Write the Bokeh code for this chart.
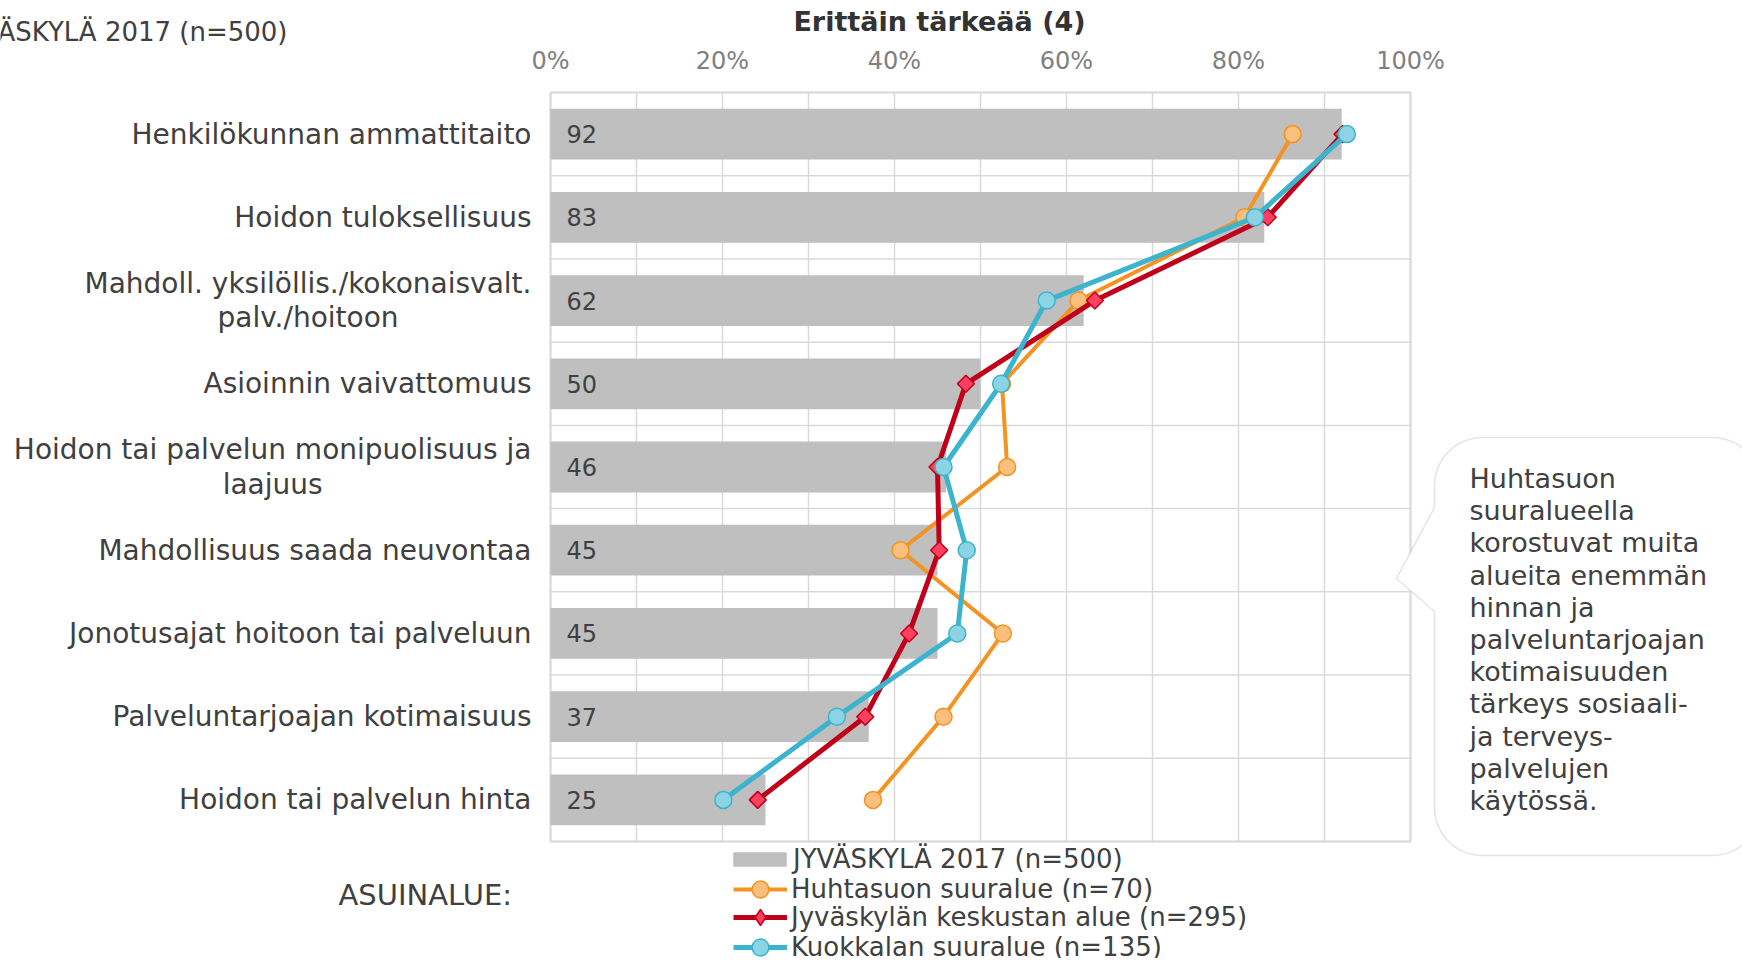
import math
from bokeh.plotting import figure
from bokeh.models import (Range1d, Label, PolyAnnotation, Legend, LegendItem, ColumnDataSource)
from bokeh.models.glyphs import Text
from bokeh.core.properties import value
from bokeh.embed import file_html
from bokeh.resources import INLINE

# ---------------- data ----------------
categories = [
    "Henkilökunnan ammattitaito",
    "Hoidon tuloksellisuus",
    "Mahdoll. yksilöllis./kokonaisvalt.\npalv./hoitoon",
    "Asioinnin vaivattomuus",
    "Hoidon tai palvelun monipuolisuus ja\nlaajuus",
    "Mahdollisuus saada neuvontaa",
    "Jonotusajat hoitoon tai palveluun",
    "Palveluntarjoajan kotimaisuus",
    "Hoidon tai palvelun hinta",
]
total_2017 = [92, 83, 62, 50, 46, 45, 45, 37, 25]
huhtasuo = [86.3, 80.7, 61.4, 52.5, 53.1, 40.7, 52.6, 45.7, 37.5]
keskusta = [92.1, 83.4, 63.3, 48.3, 45.0, 45.2, 41.7, 36.6, 24.1]
kuokkala = [92.6, 81.9, 57.7, 52.4, 45.7, 48.4, 47.3, 33.3, 20.1]

series_names = [
    "JYVÄSKYLÄ 2017 (n=500)",
    "Huhtasuon suuralue (n=70)",
    "Jyväskylän keskustan alue (n=295)",
    "Kuokkalan suuralue (n=135)",
]
x_ticks = [0, 20, 40, 60, 80, 100]
x_grid = [0, 10, 20, 30, 40, 50, 60, 70, 80, 90, 100]
title_text = "Erittäin tärkeää (4)"
top_left_text = "JYVÄSKYLÄ 2017 (n=500)"
group_label = "ASUINALUE:"
callout_lines = ["Huhtasuon", "suuralueella", "korostuvat muita", "alueita enemmän",
                 "hinnan ja", "palveluntarjoajan", "kotimaisuuden", "tärkeys sosiaali-",
                 "ja terveys-", "palvelujen", "käytössä."]

# ---------------- layout (canvas px) ----------------
W, H = 1742, 958
FL, FR, FT, FB = 550, 1410, 92, 841          # plot area box
FONT = "DejaVu Sans"
TXT = "#404040"
GRID = "#D9D9D9"
n = len(categories)
XMIN, XMAX = x_grid[0], x_grid[-1]
ppx = (FR - FL) / (XMAX - XMIN)
ppy = (FB - FT) / n


def X(sx):
    return XMIN + (sx - FL) / ppx


def Y(sy):
    return (FB - sy) / ppy


p = figure(width=W, height=H, output_backend="svg", toolbar_location=None, title=None,
           x_range=Range1d(X(0), X(W)), y_range=Range1d(Y(H), Y(0)),
           x_axis_location=None, y_axis_location=None, min_border=0)
p.grid.visible = False
p.outline_line_color = None
p.background_fill_color = "white"
p.border_fill_color = "white"

rows = [n - 0.5 - i for i in range(n)]
src = ColumnDataSource(dict(row=rows, cat=categories, total=total_2017,
                            lab=[str(v) for v in total_2017],
                            huh=huhtasuo, kes=keskusta, kuo=kuokkala))

# grid lines and plot-area border
p.segment(x0=x_grid, x1=x_grid, y0=[0] * len(x_grid), y1=[n] * len(x_grid),
          line_color=GRID, line_width=1.5)
bounds = list(range(n + 1))
p.segment(x0=[XMIN] * len(bounds), x1=[XMAX] * len(bounds), y0=bounds, y1=bounds,
          line_color=GRID, line_width=1.5)
p.quad(left=XMIN, right=XMAX, bottom=0, top=n, fill_color=None, line_color=GRID, line_width=2)

# bars
bars = p.hbar(y="row", right="total", left=0, height=0.61, source=src,
              fill_color="#BFBFBF", line_color=None)
p.text(x=0, y="row", text="lab", source=src, x_offset=16, text_align="left",
       text_baseline="middle", text_font=value(FONT), text_font_size="24px", text_color=TXT)

# series lines
ORANGE, ORANGE_F = "#F39422", "#FABE7D"
RED, RED_F = "#C0001A", "#FF4060"
CYAN, CYAN_F = "#3DB4CD", "#8CD3E3"
l1 = p.line(x="huh", y="row", source=src, line_color=ORANGE, line_width=4)
s1 = p.scatter(x="huh", y="row", source=src, marker="circle", size=17,
               fill_color=ORANGE_F, line_color=ORANGE, line_width=1.5)
l2 = p.line(x="kes", y="row", source=src, line_color=RED, line_width=5)
s2 = p.scatter(x="kes", y="row", source=src, marker="square", angle=math.pi / 4, size=12,
               fill_color=RED_F, line_color=RED, line_width=1.5)
l3 = p.line(x="kuo", y="row", source=src, line_color=CYAN, line_width=5)
s3 = p.scatter(x="kuo", y="row", source=src, marker="circle", size=17,
               fill_color=CYAN_F, line_color=CYAN, line_width=1.5)
# hidden twin of the red markers, used only for the legend key (diamond symbol)
s2_key = p.scatter(x="kes", y="row", source=src, marker="diamond", size=12,
                   fill_color=RED_F, line_color=RED, line_width=1.5, visible=False)

# x tick labels (top)
p.text(x=x_ticks, y=[Y(60)] * len(x_ticks), text=["%d%%" % t for t in x_ticks],
       text_align="center", text_baseline="middle", text_font=value(FONT),
       text_font_size="24px", text_color="#808080")

# category labels (left)
cat_kw = dict(text_baseline="middle", text_font=value(FONT), text_font_size="28px",
              text_color=TXT, text_line_height=1.04)
if "anchor" in Text.properties():
    cat_kw.update(text_align="center", anchor=value("center_right"))
else:
    cat_kw.update(text_align="right")
p.text(x=X(531), y="row", text="cat", source=src, **cat_kw)

# legend: one entry per row so that markers keep their size
legend_rows = [859, 889, 917, 947]
legend_specs = [([bars], 726, 67, 18, 0), ([l1, s1], 733, 54, 42, 4),
                ([l2, s2_key], 733, 54, 40, 4), ([l3, s3], 733, 54, 42, 4)]
for name, cy, (rends, x0, gw, gh, so) in zip(series_names, legend_rows, legend_specs):
    hgt = max(gh, 30)
    p.add_layout(Legend(items=[LegendItem(label=name, renderers=rends)],
                        location=(x0, H - (cy + hgt / 2)), orientation="vertical",
                        glyph_width=gw, glyph_height=gh, label_standoff=so, spacing=0,
                        padding=0, margin=0, label_height=30,
                        border_line_alpha=0, background_fill_alpha=0,
                        inactive_fill_alpha=0, click_policy="none",
                        label_text_font=FONT, label_text_font_size="26px",
                        label_text_color=TXT))

# free texts


def label(sx, sy, text, align, size, style="normal", color=TXT):
    p.add_layout(Label(x=sx, y=H - sy, x_units="screen", y_units="screen", text=text,
                       text_align=align, text_baseline="middle", text_font=FONT,
                       text_font_size=size, text_font_style=style, text_color=color))


label(939, 21, title_text, "center", "27px", "bold", "#333333")
label(287, 31, top_left_text, "right", "26px")
label(338, 894, group_label, "left", "29px")

# callout bubble
L, T, B, R, r = 1434, 437, 855, 1760, 48
tip_x, tip_y, base_top, base_bot = 1396, 578, 507, 611
pts = []


def arc(cx, cy, a0, a1, k=12):
    for i in range(k + 1):
        a = a0 + (a1 - a0) * i / k
        pts.append((cx + r * math.cos(a), cy + r * math.sin(a)))


arc(L + r, T + r, math.pi, 1.5 * math.pi)
arc(R - r, T + r, 1.5 * math.pi, 2 * math.pi)
arc(R - r, B - r, 0, 0.5 * math.pi)
arc(L + r, B - r, 0.5 * math.pi, math.pi)
pts += [(L, base_bot), (tip_x, tip_y), (L, base_top)]
p.add_layout(PolyAnnotation(xs=[a for a, b in pts], ys=[H - b for a, b in pts],
                            xs_units="screen", ys_units="screen",
                            fill_color="white", fill_alpha=1.0,
                            line_color="#A6A6A6", line_width=1.5))
p.add_layout(Label(x=1469, y=H - 639, x_units="screen", y_units="screen",
                   text="\n".join(callout_lines), text_align="left", text_baseline="middle",
                   text_font=FONT, text_font_size="27px", text_color=TXT,
                   text_line_height=1.04))

open("out.html", "w").write(file_html(p, INLINE))
